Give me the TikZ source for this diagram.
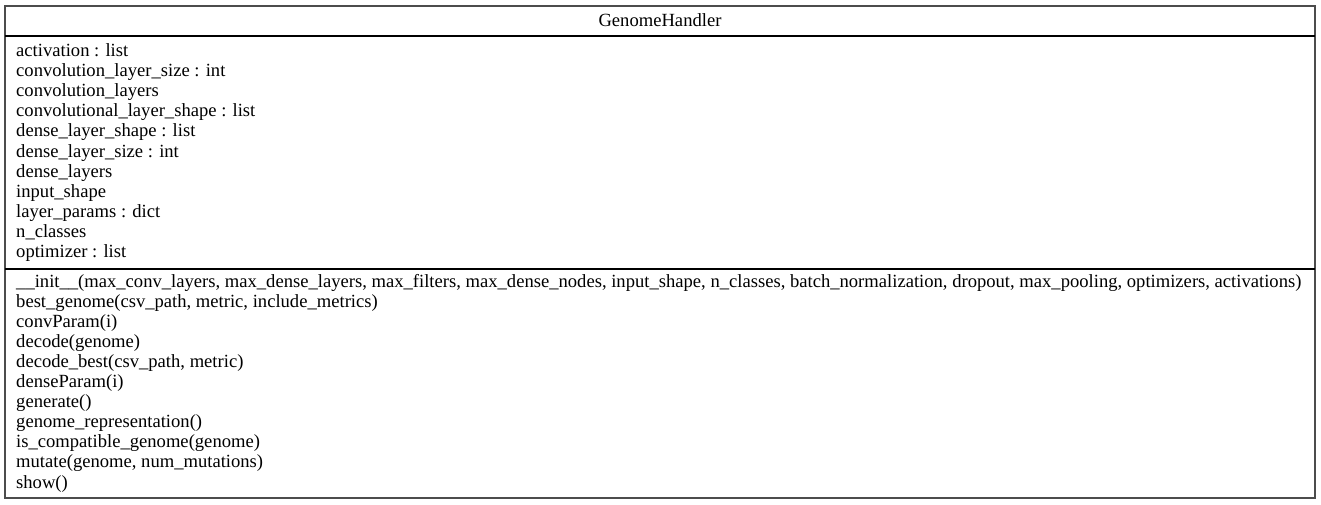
\documentclass[tikz,border=0pt]{standalone}
\usepackage{fontspec}
\setmainfont{Liberation Serif}
\begin{document}
\begin{tikzpicture}[x=1pt,y=-1pt,
    classtext/.style={anchor=base west,inner sep=0pt,font=\fontsize{18.6}{20}\selectfont},
    classtitle/.style={anchor=base,inner sep=0pt,font=\fontsize{18.6}{20}\selectfont},
    frame/.style={draw=black!70,line width=2pt},
    divider/.style={draw=black,line width=1.3pt}]
  \useasboundingbox (0,0) rectangle (1321,504);
  \draw[frame] (5,6) rectangle (1315,498);
  \draw[divider] (5,36) -- (1315,36);
  \draw[divider] (5,269) -- (1315,269);
  \node[classtitle] (title) at (660,26.5) {GenomeHandler};
  % attributes
  \node[classtext] (a1) at (16,56.5) {activation : list};
  \node[classtext] (a2) at (16,76.6) {convolution\_layer\_size : int};
  \node[classtext] (a3) at (16,96.7) {convolution\_layers};
  \node[classtext] (a4) at (16,116.8) {convolutional\_layer\_shape : list};
  \node[classtext] (a5) at (16,136.9) {dense\_layer\_shape : list};
  \node[classtext] (a6) at (16,157.0) {dense\_layer\_size : int};
  \node[classtext] (a7) at (16,177.1) {dense\_layers};
  \node[classtext] (a8) at (16,197.2) {input\_shape};
  \node[classtext] (a9) at (16,217.3) {layer\_params : dict};
  \node[classtext] (a10) at (16,237.4) {n\_classes};
  \node[classtext] (a11) at (16,257.5) {optimizer : list};
  % methods
  \node[classtext] (m1) at (16,287.0) {\_\_init\_\_(max\_conv\_layers, max\_dense\_layers, max\_filters, max\_dense\_nodes, input\_shape, n\_classes, batch\_normalization, dropout, max\_pooling, optimizers, activations)};
  \node[classtext] (m2) at (16,307.1) {best\_genome(csv\_path, metric, include\_metrics)};
  \node[classtext] (m3) at (16,327.2) {convParam(i)};
  \node[classtext] (m4) at (16,347.3) {decode(genome)};
  \node[classtext] (m5) at (16,367.4) {decode\_best(csv\_path, metric)};
  \node[classtext] (m6) at (16,387.5) {denseParam(i)};
  \node[classtext] (m7) at (16,407.6) {generate()};
  \node[classtext] (m8) at (16,427.7) {genome\_representation()};
  \node[classtext] (m9) at (16,447.8) {is\_compatible\_genome(genome)};
  \node[classtext] (m10) at (16,467.9) {mutate(genome, num\_mutations)};
  \node[classtext] (m11) at (16,488.0) {show()};
\end{tikzpicture}
\end{document}
